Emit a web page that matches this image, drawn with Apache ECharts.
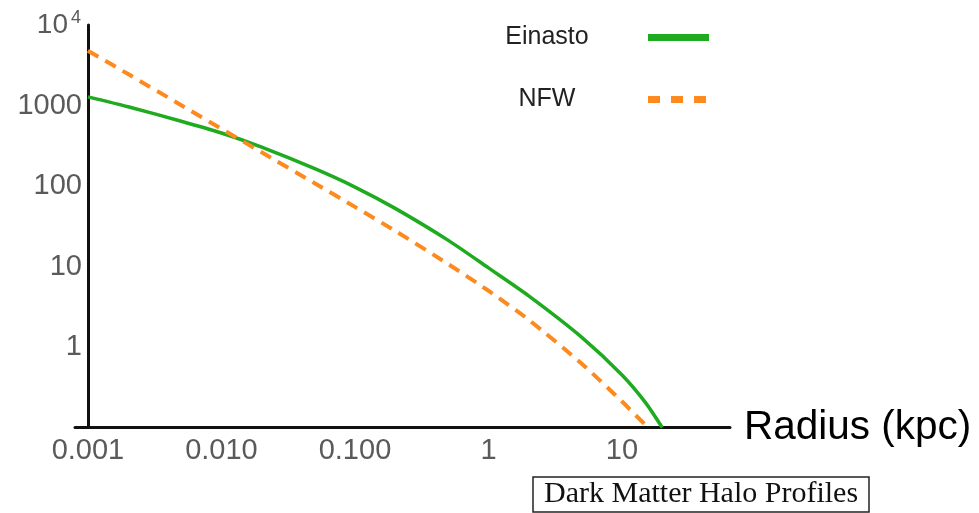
<!DOCTYPE html>
<html>
<head>
<meta charset="utf-8">
<script src="https://cdn.jsdelivr.net/npm/echarts@6/dist/echarts.min.js"></script>
<style>
  html, body { margin: 0; padding: 0; background: #fff; }
  #main { width: 979px; height: 513px; }
</style>
</head>
<body>
<div id="main"></div>
<script>
// 数据：读图估计的密度曲线
var einastoR = [0.001, 0.002, 0.005, 0.01, 0.02, 0.05, 0.1, 0.2, 0.5, 1, 2, 5, 10, 15, 20]
var einastoRho = [1280, 964, 638, 455, 304, 164, 97, 52.7, 21.1, 9.6, 4.32, 1.32, 0.45, 0.204, 0.1]
var nfwR = [0.001, 0.002, 0.005, 0.01, 0.02, 0.05, 0.1, 0.2, 0.5, 1, 2, 5, 10, 13, 15.7]
var nfwRho = [4790, 2455, 1009, 513, 262, 108, 55, 27.7, 10.7, 5.0, 2.18, 0.62, 0.21, 0.136, 0.1]

// 刻度标签（按 10 的指数）
var xTickLabels = { '-3': '0.001', '-2': '0.010', '-1': '0.100', '0': '1', '1': '10' }
var yTickLabels = { '0': '1', '1': '10', '2': '100', '3': '1000', '4': '{b|10}{sup|4}' }

function pairs (xs, ys) {
  return xs.map(function (x, i) { return [x, ys[i]] })
}

function tickLabel (table) {
  return function (v) {
    var e = Math.log10(v)
    var r = Math.round(e)
    if (Math.abs(e - r) > 1e-6) return ''
    return table[String(r)] || ''
  }
}

var myChart = echarts.init(document.getElementById('main'))

myChart.setOption({
  animation: false,
  title: {
    text: 'Dark Matter Halo Profiles',
    left: 533,
    top: 477,
    padding: [1, 11],
    borderWidth: 1.5,
    borderColor: '#222',
    textStyle: {
      fontFamily: 'Liberation Serif',
      fontWeight: 'normal',
      fontSize: 30,
      lineHeight: 33,
      color: '#111'
    }
  },
  legend: {
    orient: 'vertical',
    left: 451,
    top: 25,
    padding: 0,
    align: 'right',
    itemWidth: 61,
    itemHeight: 14,
    itemGap: 37,
    itemTextGap: 11,
    lineStyle: { width: 7 },
    itemStyle: { opacity: 0 },
    formatter: '{a|{name}}',
    textStyle: {
      rich: {
        a: {
          width: 192,
          align: 'center',
          fontSize: 25,
          lineHeight: 30,
          fontFamily: 'Liberation Sans',
          color: '#222'
        }
      }
    },
    data: [
      { name: 'Einasto' },
      { name: 'NFW', lineStyle: { type: [12, 11], width: 7 } }
    ]
  },
  grid: {
    left: 75,
    right: 249,
    top: 25,
    bottom: 85.5,
    containLabel: false
  },
  xAxis: {
    type: 'log',
    min: 0.0008,
    max: 64.4,
    name: 'Radius (kpc)',
    nameLocation: 'end',
    nameGap: 14,
    nameTextStyle: {
      fontFamily: 'Liberation Sans',
      fontSize: 40.5,
      color: '#000',
      verticalAlign: 'middle'
    },
    axisLine: { lineStyle: { color: '#111', width: 3 } },
    axisTick: { show: false },
    splitLine: { show: false },
    axisLabel: {
      margin: 9,
      fontFamily: 'Liberation Sans',
      fontSize: 29,
      color: '#5a5a5a',
      showMinLabel: true,
      showMaxLabel: true,
      formatter: tickLabel(xTickLabels)
    }
  },
  yAxis: {
    type: 'log',
    min: 0.1,
    max: 10000,
    offset: -13,
    axisLine: { lineStyle: { color: '#111', width: 3 } },
    axisTick: { show: false },
    splitLine: { show: false },
    axisLabel: {
      margin: 6,
      fontFamily: 'Liberation Sans',
      fontSize: 29,
      color: '#5a5a5a',
      formatter: tickLabel(yTickLabels),
      rich: {
        b: { fontSize: 28, fontFamily: 'Liberation Sans', color: '#5a5a5a' },
        sup: { fontSize: 18, fontFamily: 'Liberation Sans', color: '#5a5a5a', verticalAlign: 'top', padding: [0, 1, 14, 3] }
      }
    }
  },
  series: [
    {
      name: 'Einasto',
      type: 'line',
      smooth: 0.25,
      symbol: 'none',
      data: pairs(einastoR, einastoRho),
      itemStyle: { color: '#1fab1f' },
      lineStyle: { color: '#1fab1f', width: 3.5 }
    },
    {
      name: 'NFW',
      type: 'line',
      smooth: 0.25,
      symbol: 'none',
      data: pairs(nfwR, nfwRho),
      itemStyle: { color: '#fd8a1f' },
      lineStyle: { color: '#fd8a1f', width: 4, type: [12, 8] }
    }
  ]
})
</script>
</body>
</html>
